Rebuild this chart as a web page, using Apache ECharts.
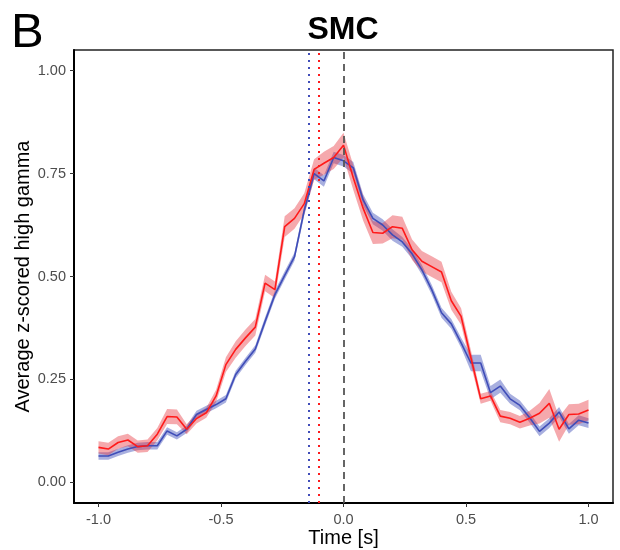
<!DOCTYPE html>
<html>
<head>
<meta charset="utf-8">
<script src="https://cdn.jsdelivr.net/npm/echarts@6/dist/echarts.min.js"></script>
<style>
html,body{margin:0;padding:0;background:#fff;}
#chart{width:620px;height:550px;}
</style>
</head>
<body>
<div id="chart"></div>
<script>
var times = [-1.00,-0.96,-0.92,-0.88,-0.84,-0.80,-0.76,-0.72,-0.68,-0.64,-0.60,-0.56,-0.52,-0.48,-0.44,-0.40,-0.36,-0.32,-0.28,-0.24,-0.20,-0.16,-0.12,-0.08,-0.04,0.00,0.04,0.08,0.12,0.16,0.20,0.24,0.28,0.32,0.36,0.40,0.44,0.48,0.52,0.56,0.60,0.64,0.68,0.72,0.76,0.80,0.84,0.88,0.92,0.96,1.00];

var redMean = [0.085,0.081,0.097,0.103,0.087,0.089,0.117,0.160,0.159,0.129,0.155,0.169,0.210,0.286,0.323,0.351,0.377,0.484,0.468,0.621,0.641,0.677,0.760,0.775,0.789,0.819,0.740,0.666,0.607,0.605,0.621,0.617,0.565,0.537,0.524,0.511,0.441,0.403,0.303,0.203,0.210,0.161,0.156,0.146,0.156,0.168,0.192,0.129,0.165,0.166,0.176];
var redSE = [0.015,0.015,0.015,0.015,0.015,0.015,0.015,0.018,0.018,0.012,0.012,0.012,0.015,0.018,0.020,0.020,0.020,0.020,0.020,0.025,0.025,0.025,0.025,0.028,0.028,0.030,0.030,0.030,0.028,0.025,0.028,0.028,0.025,0.025,0.025,0.025,0.022,0.020,0.018,0.012,0.012,0.015,0.015,0.015,0.018,0.025,0.035,0.030,0.025,0.025,0.025];

var blueMean = [0.064,0.064,0.073,0.081,0.087,0.089,0.089,0.125,0.113,0.129,0.165,0.177,0.189,0.203,0.262,0.294,0.324,0.391,0.456,0.503,0.548,0.661,0.750,0.732,0.789,0.781,0.764,0.686,0.641,0.625,0.601,0.584,0.555,0.516,0.468,0.412,0.385,0.339,0.290,0.290,0.218,0.234,0.203,0.187,0.157,0.124,0.144,0.171,0.130,0.151,0.144];
var blueSE = [0.009,0.009,0.009,0.009,0.009,0.009,0.009,0.009,0.009,0.009,0.009,0.009,0.009,0.009,0.009,0.009,0.009,0.010,0.010,0.010,0.010,0.012,0.014,0.014,0.014,0.014,0.014,0.014,0.014,0.014,0.014,0.012,0.012,0.012,0.012,0.012,0.012,0.012,0.020,0.020,0.016,0.016,0.012,0.012,0.012,0.012,0.012,0.012,0.012,0.012,0.012];

var xTicks = [-1.0,-0.5,0.0,0.5,1.0];
var yTicks = [0.00,0.25,0.50,0.75,1.00];
var onsetBlue = -0.14;
var onsetRed = -0.105;
var zeroLine = 0;

var RED = '#FF1A1A', RED_BAND = 'rgba(232,50,60,0.42)';
var BLUE = '#3F4DB8', BLUE_BAND = 'rgba(63,77,184,0.45)';
var FONT = '"Liberation Sans", Arial, Helvetica, sans-serif';

function bandSeries(mean, se, color) {
  return {
    type: 'custom',
    silent: true,
    clip: true,
    data: times.map(function (t, i) { return [t, mean[i]]; }),
    renderItem: function (params, api) {
      if (params.dataIndex !== 0) return null;
      var pts = [];
      for (var i = 0; i < times.length; i++) pts.push(api.coord([times[i], mean[i] + se[i]]));
      for (var j = times.length - 1; j >= 0; j--) pts.push(api.coord([times[j], mean[j] - se[j]]));
      return { type: 'polygon', shape: { points: pts }, style: { fill: color, stroke: null } };
    },
    z: 2
  };
}
function lineSeries(mean, color) {
  return {
    type: 'line',
    data: times.map(function (t, i) { return [t, mean[i]]; }),
    symbol: 'none',
    lineStyle: { color: color, width: 1.6 },
    silent: true,
    z: 3
  };
}

var chart = echarts.init(document.getElementById('chart'), null, { renderer: 'canvas' });
chart.setOption({
  animation: false,
  backgroundColor: '#ffffff',
  graphic: [
    { type: 'text', x: 11, y: 9, style: { text: 'B', font: '49px ' + FONT, fill: '#000' } },
    { type: 'text', x: 343, y: 30, style: { text: 'SMC', font: 'bold 32px ' + FONT, fill: '#000', textAlign: 'center', textVerticalAlign: 'middle' } }
  ],
  grid: { left: 74, right: 7, top: 50, bottom: 47, outerBoundsMode: 'none', containLabel: false, show: true, borderColor: '#222', borderWidth: 1.5, backgroundColor: '#fff' },
  xAxis: {
    type: 'value', min: -1.1, max: 1.1,
    name: 'Time [s]', nameLocation: 'middle', nameGap: 25, nameMoveOverlap: false,
    nameTextStyle: { fontFamily: FONT, fontSize: 20, color: '#000' },
    axisLine: { show: true, onZero: false, lineStyle: { color: '#000', width: 2 } },
    axisTick: { show: true, length: 4, customValues: xTicks, lineStyle: { color: '#333', width: 1 } },
    axisLabel: { customValues: xTicks, margin: 9, fontFamily: FONT, fontSize: 14.5, color: '#4D4D4D',
      formatter: function (v) { return v.toFixed(1); } },
    splitLine: { show: false }
  },
  yAxis: {
    type: 'value', min: -0.05, max: 1.05,
    name: 'Average z-scored high gamma', nameLocation: 'middle', nameGap: 41, nameRotate: 90, nameMoveOverlap: false,
    nameTextStyle: { fontFamily: FONT, fontSize: 20, color: '#000' },
    axisLine: { show: true, onZero: false, lineStyle: { color: '#000', width: 2 } },
    axisTick: { show: true, length: 4, customValues: yTicks, lineStyle: { color: '#333', width: 1 } },
    axisLabel: { customValues: yTicks, margin: 8, fontFamily: FONT, fontSize: 14.5, color: '#4D4D4D',
      formatter: function (v) { return v.toFixed(2); } },
    splitLine: { show: false }
  },
  series: [
    bandSeries(blueMean, blueSE, BLUE_BAND),
    lineSeries(blueMean, BLUE),
    bandSeries(redMean, redSE, RED_BAND),
    lineSeries(redMean, RED),
    {
      type: 'line', data: [], silent: true, z: 5,
      markLine: {
        silent: true, symbol: ['none', 'none'], label: { show: false }, animation: false,
        data: [
          { xAxis: onsetBlue, lineStyle: { color: '#3F4DB8', type: [2, 5], width: 2 } },
          { xAxis: onsetRed, lineStyle: { color: '#FF1A1A', type: [2, 5], width: 2 } },
          { xAxis: zeroLine, lineStyle: { color: '#555555', type: [7, 5], width: 1.8 } }
        ]
      }
    }
  ]
});
</script>
</body>
</html>
